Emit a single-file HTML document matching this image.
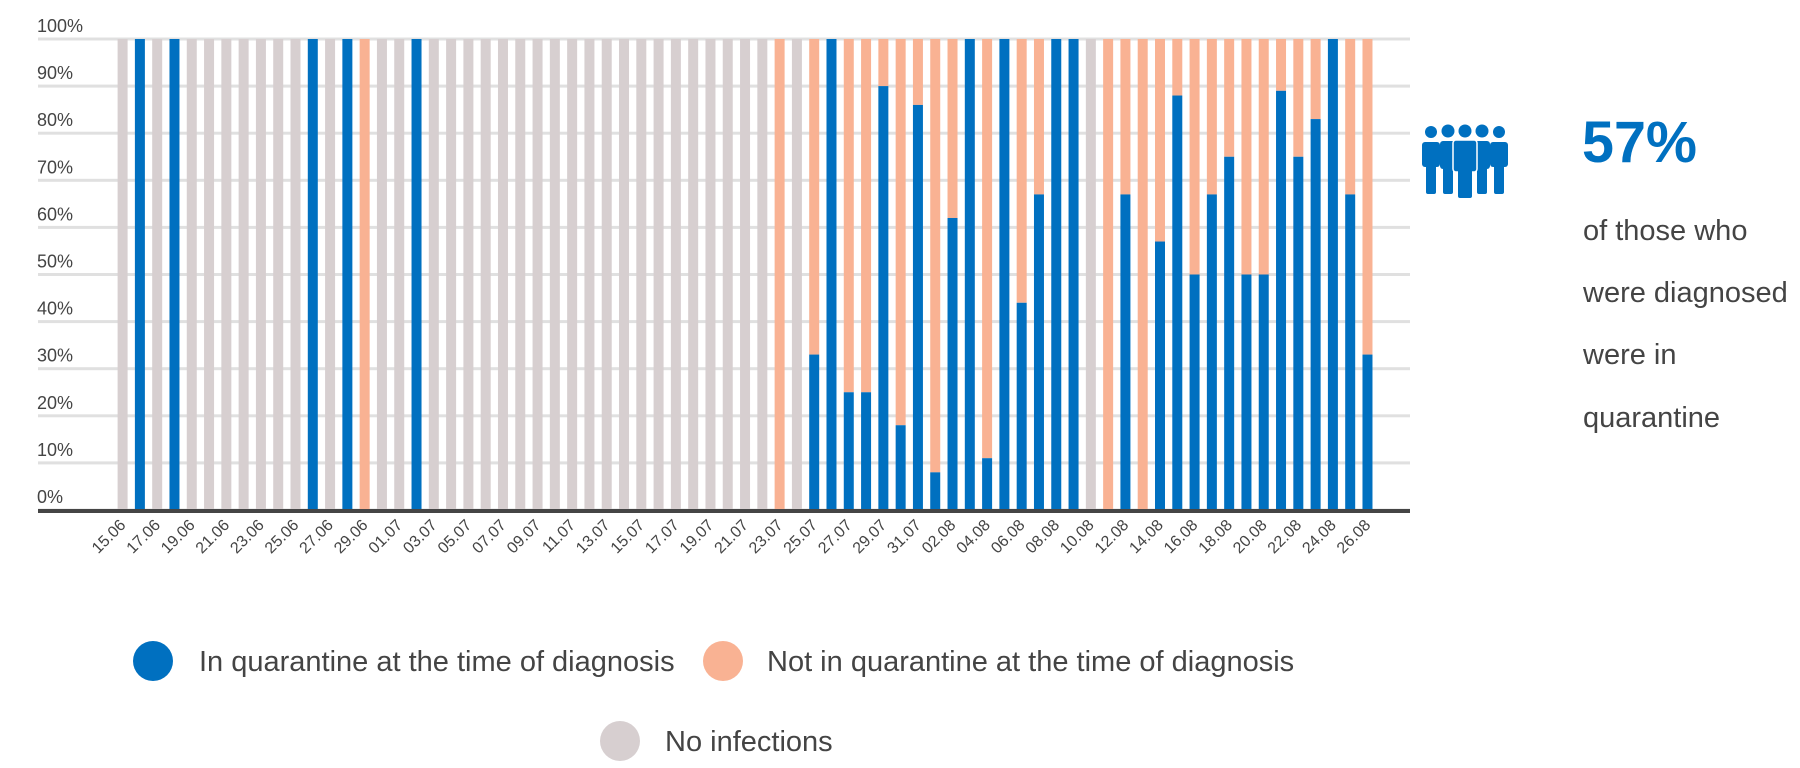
<!DOCTYPE html>
<html><head><meta charset="utf-8"><style>
html,body{margin:0;padding:0;background:#fff;width:1800px;height:768px;overflow:hidden}
svg{display:block;font-family:"Liberation Sans",sans-serif}
</style></head><body>
<svg id="chart" width="1800" height="768" viewBox="0 0 1800 768" xmlns="http://www.w3.org/2000/svg">
<g id="grid"></g>
<g id="bars"></g>
<g id="xlabels"></g>
<rect x="38" y="509" width="1372" height="4" fill="#454545"/>
<g fill="#0070c0">
 <circle cx="1431" cy="132" r="6"/><circle cx="1448" cy="131" r="6.5"/><circle cx="1465" cy="131" r="6.5"/><circle cx="1482" cy="131" r="6.5"/><circle cx="1499" cy="132" r="6"/>
 <rect x="1422" y="142" width="18" height="25" rx="3"/><rect x="1426" y="160" width="10" height="34" rx="2"/>
 <rect x="1490" y="142" width="18" height="25" rx="3"/><rect x="1494" y="160" width="10" height="34" rx="2"/>
 <rect x="1440" y="141" width="16" height="28" rx="3"/><rect x="1443" y="160" width="10" height="34" rx="2"/>
 <rect x="1474" y="141" width="16" height="28" rx="3"/><rect x="1477" y="160" width="10" height="34" rx="2"/>
 <rect x="1453" y="140" width="24" height="32" rx="3" stroke="#fff" stroke-width="1.5"/><rect x="1458" y="165" width="14" height="33" rx="2"/>
</g>
<text x="1582" y="162" font-size="58" font-weight="bold" fill="#0070c0" textLength="115" lengthAdjust="spacingAndGlyphs">57%</text>
<g font-size="29" fill="#444">
 <text x="1583" y="240">of those who</text>
 <text x="1583" y="302">were diagnosed</text>
 <text x="1583" y="364">were in</text>
 <text x="1583" y="427">quarantine</text>
</g>
<g font-size="29" fill="#444">
 <g><circle cx="153" cy="661" r="20" fill="#0070c0"/><text x="199" y="671">In quarantine at the time of diagnosis</text></g>
 <g><circle cx="723" cy="661" r="20" fill="#f9b293"/><text x="767" y="671">Not in quarantine at the time of diagnosis</text></g>
 <g><circle cx="620" cy="741" r="20" fill="#d7cfd0"/><text x="665" y="751">No infections</text></g>
</g>
</svg>
<script>
const dates = ["15.06","16.06","17.06","18.06","19.06","20.06","21.06","22.06","23.06","24.06","25.06","26.06","27.06","28.06","29.06","30.06","01.07","02.07","03.07","04.07","05.07","06.07","07.07","08.07","09.07","10.07","11.07","12.07","13.07","14.07","15.07","16.07","17.07","18.07","19.07","20.07","21.07","22.07","23.07","24.07","25.07","26.07","27.07","28.07","29.07","30.07","31.07","01.08","02.08","03.08","04.08","05.08","06.08","07.08","08.08","09.08","10.08","11.08","12.08","13.08","14.08","15.08","16.08","17.08","18.08","19.08","20.08","21.08","22.08","23.08","24.08","25.08","26.08"];
// share in quarantine (%); null = no infections
const inQuarantine = [null,100,null,100,null,null,null,null,null,null,null,100,null,100,0,null,null,100,null,null,null,null,null,null,null,null,null,null,null,null,null,null,null,null,null,null,null,null,0,null,33,100,25,25,90,18,86,8,62,100,11,100,44,67,100,100,null,0,67,0,57,88,50,67,75,50,50,89,75,83,100,67,33];
const yTicks = [0,10,20,30,40,50,60,70,80,90,100];
const tickLabels = ["0%","10%","20%","30%","40%","50%","60%","70%","80%","90%","100%"];

const NS="http://www.w3.org/2000/svg";
const y0=510, y100=39, x0=117.6, pitch=17.29, bw=10;
const yScale=v=>y0-(y0-y100)*v/100;
const xScale=i=>x0+i*pitch;
const grid=document.getElementById('grid'), bars=document.getElementById('bars'), xl=document.getElementById('xlabels');
function mk(t,a){const e=document.createElementNS(NS,t);for(const k in a)e.setAttribute(k,a[k]);return e;}
yTicks.forEach((t,i)=>{
  const l=mk('rect',{x:38,y:yScale(t)-1.5,width:1372,height:3,fill:'#e0e0e0'});
  
  
  grid.appendChild(l);
  const tx=mk('text',{x:37,y:yScale(t)-7,'font-size':18,fill:'#444'});
  tx.textContent=tickLabels[i];
  
  
  grid.appendChild(tx);
});
dates.forEach((d,i)=>{
  const v=inQuarantine[i], x=xScale(i);
  if(v===null){
    const r=mk('rect',{x:x,y:y100,width:bw,height:y0-y100,fill:'#d7cfd0'});
    
    
    bars.appendChild(r);
  } else {
    const o=mk('rect',{x:x,y:y100,width:bw,height:yScale(v)-y100,fill:'#f9b293'});
    
    
    bars.appendChild(o);
    const b=mk('rect',{x:x,y:yScale(v),width:bw,height:y0-yScale(v),fill:'#0070c0'});
    
    
    bars.appendChild(b);
  }
  if(i%2===0){
    const cx=x+bw/2+4, cy=526;
    const t=mk('text',{x:cx,y:cy,'font-size':16,fill:'#444','text-anchor':'end',transform:`rotate(-45 ${cx} ${cy})`});
    t.textContent=d;
    
    
    xl.appendChild(t);
  }
});
</script>
</body></html>
